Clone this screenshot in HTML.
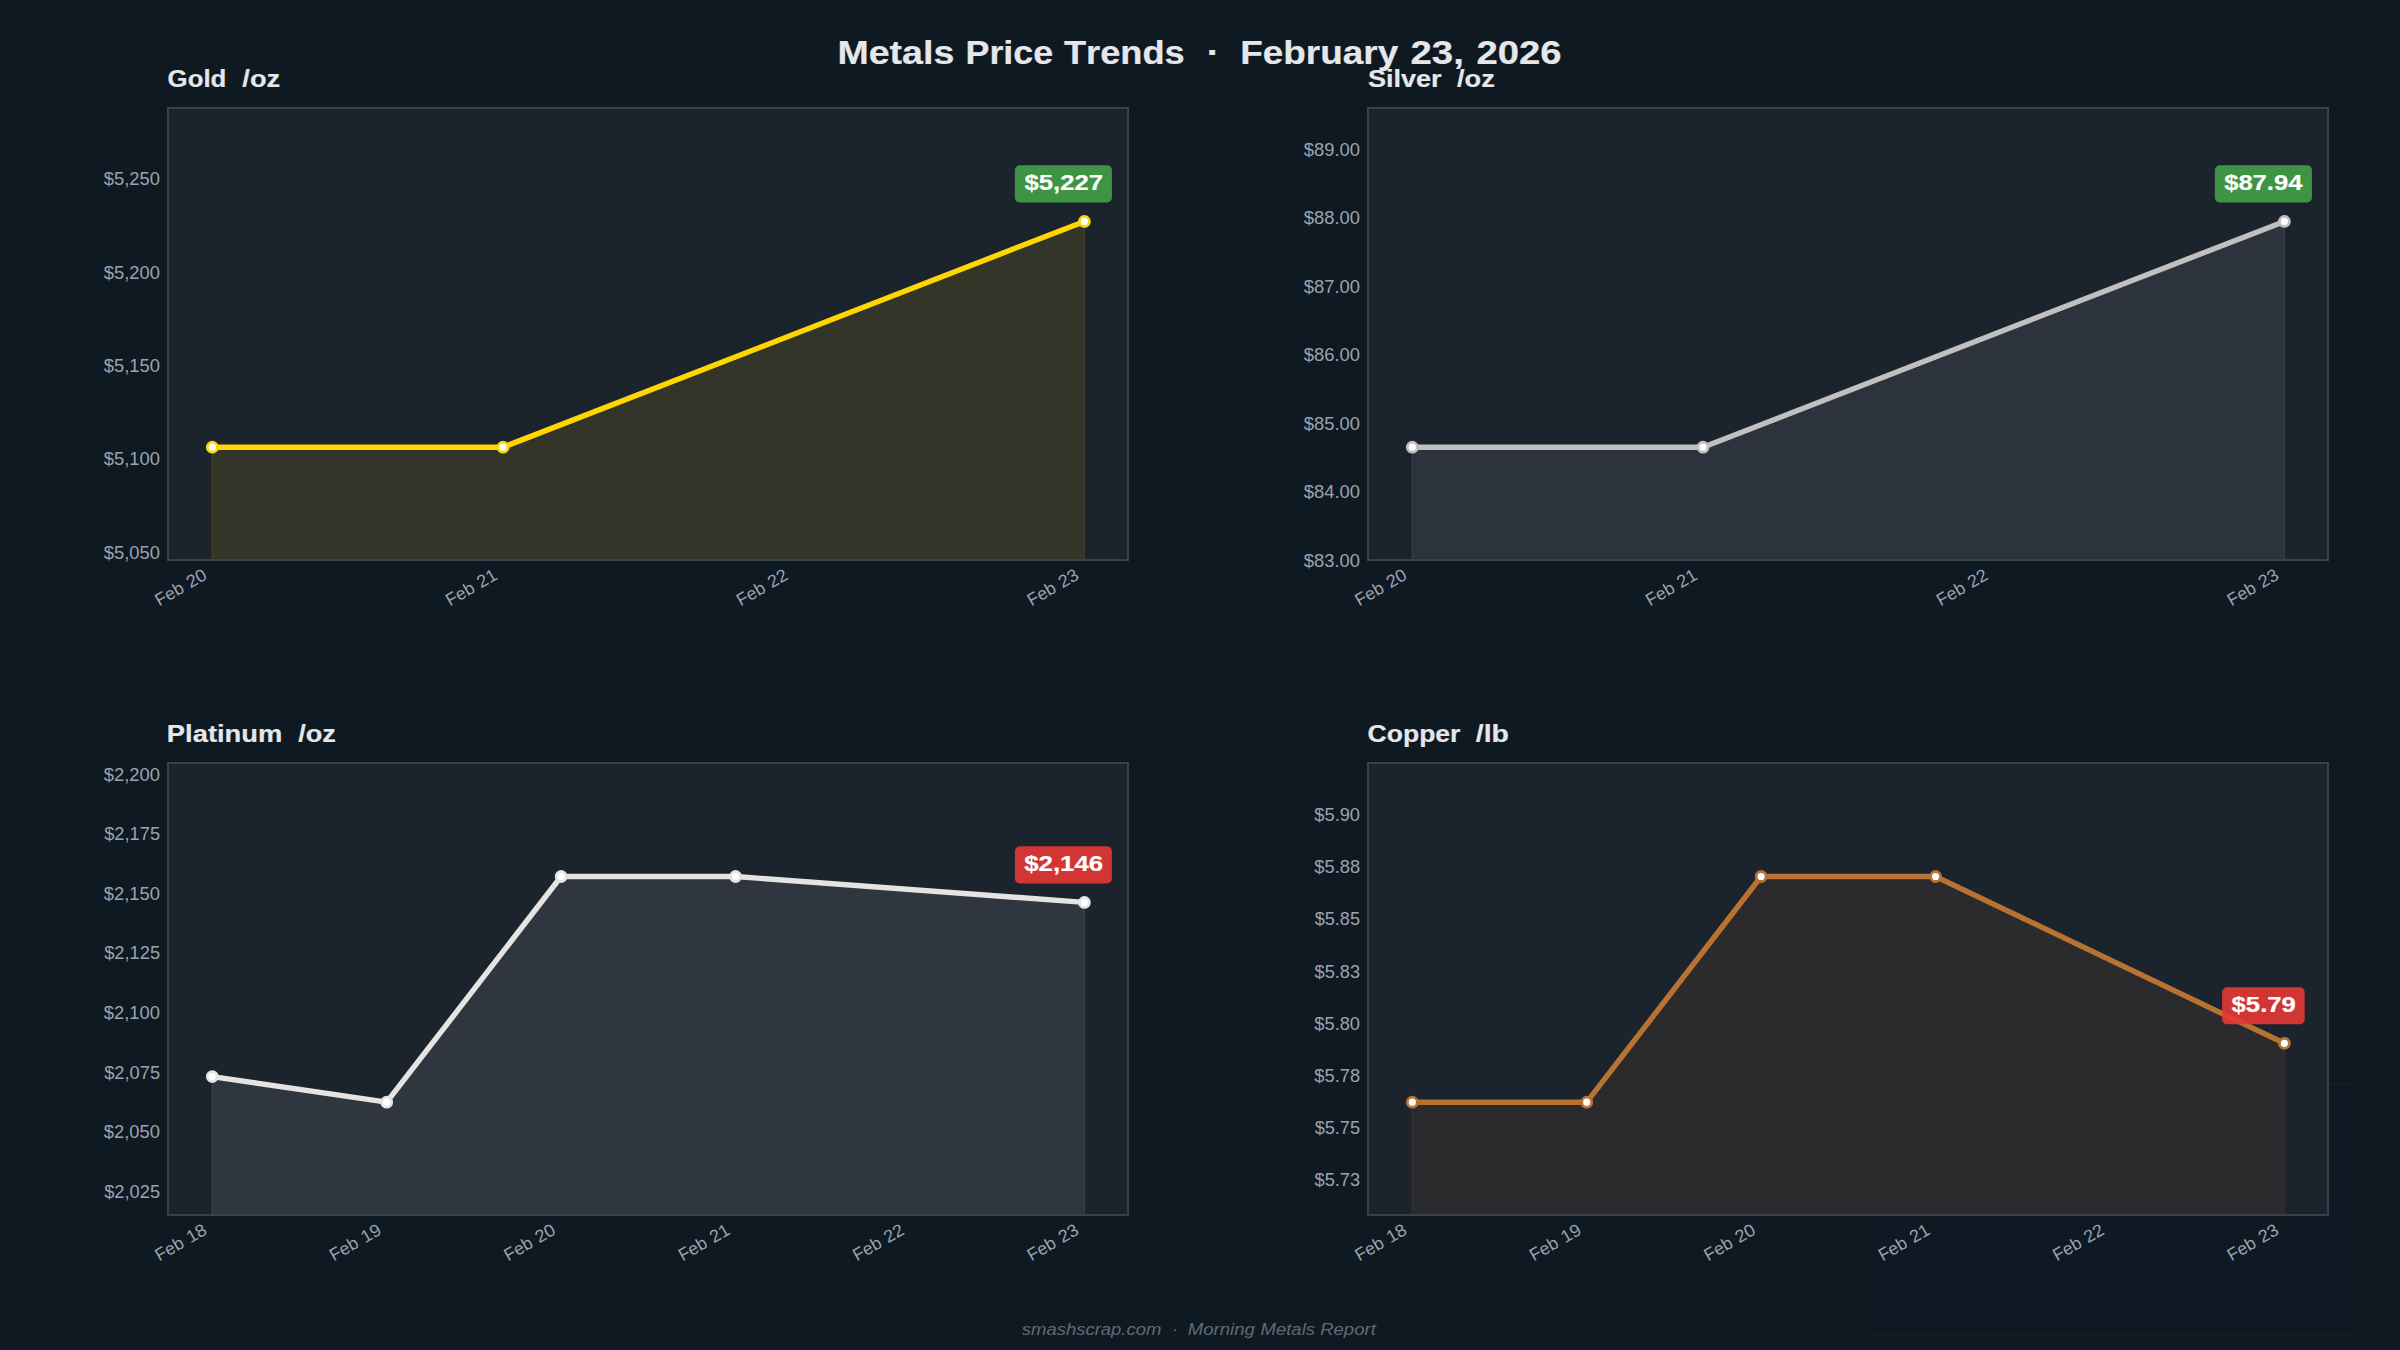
<!DOCTYPE html>
<html><head><meta charset="utf-8"><title>Metals Price Trends</title>
<style>html,body{margin:0;padding:0;background:#0f1922;width:2400px;height:1350px;overflow:hidden}svg{display:block}text{font-family:"Liberation Sans",sans-serif;font-kerning:none;white-space:pre}</style></head>
<body>
<svg width="2400" height="1350" viewBox="0 0 2400 1350">
<rect x="0" y="0" width="2400" height="1350" fill="#0f1922"/>
<rect x="1872" y="1083" width="480" height="252" fill="#14223a" fill-opacity="0.12"/>
<line x1="1872" y1="1335" x2="2352" y2="1335" stroke="#5a2030" stroke-opacity="0.25" stroke-width="1"/>
<line x1="2329" y1="1083.7" x2="2352" y2="1083.7" stroke="#3a2a4a" stroke-opacity="0.35" stroke-width="1.2"/>
<rect x="168" y="108" width="960" height="452" fill="#1b232d"/>
<polygon points="212.3,560 212.3,447.2 503,447.2 1084.4,221.4 1084.4,560" fill="#FFD700" fill-opacity="0.1" stroke="#FFD700" stroke-opacity="0.1" stroke-width="1.5"/>
<rect x="168" y="108" width="960" height="452" fill="none" stroke="#37424d" stroke-width="2"/>
<polyline points="212.3,447.2 503,447.2 1084.4,221.4" fill="none" stroke="#FFD700" stroke-width="5.4" stroke-linejoin="round" stroke-linecap="round"/>
<circle cx="212.3" cy="447.2" r="5.0" fill="#ffffff" stroke="#FFD700" stroke-width="2.78"/>
<circle cx="503" cy="447.2" r="5.0" fill="#ffffff" stroke="#FFD700" stroke-width="2.78"/>
<circle cx="1084.4" cy="221.4" r="5.0" fill="#ffffff" stroke="#FFD700" stroke-width="2.78"/>
<text x="103.83" y="558.7" font-size="17.49" textLength="56.18" lengthAdjust="spacingAndGlyphs" fill="#9ca3af">$5,050</text>
<text x="103.83" y="465.3" font-size="17.49" textLength="56.18" lengthAdjust="spacingAndGlyphs" fill="#9ca3af">$5,100</text>
<text x="103.83" y="371.9" font-size="17.49" textLength="56.18" lengthAdjust="spacingAndGlyphs" fill="#9ca3af">$5,150</text>
<text x="103.83" y="278.5" font-size="17.49" textLength="56.18" lengthAdjust="spacingAndGlyphs" fill="#9ca3af">$5,200</text>
<text x="103.83" y="185.1" font-size="17.49" textLength="56.18" lengthAdjust="spacingAndGlyphs" fill="#9ca3af">$5,250</text>
<text x="0.21" y="0" font-size="17.5" textLength="30.04" lengthAdjust="spacingAndGlyphs" fill="#9ca3af" transform="translate(159.19 606.59) rotate(-30)">Feb</text>
<text x="36.02" y="0" font-size="17.5" textLength="20.53" lengthAdjust="spacingAndGlyphs" fill="#9ca3af" transform="translate(159.19 606.59) rotate(-30)">20</text>
<text x="0.21" y="0" font-size="17.5" textLength="30.04" lengthAdjust="spacingAndGlyphs" fill="#9ca3af" transform="translate(449.89 606.59) rotate(-30)">Feb</text>
<text x="36.03" y="0" font-size="17.5" textLength="20.26" lengthAdjust="spacingAndGlyphs" fill="#9ca3af" transform="translate(449.89 606.59) rotate(-30)">21</text>
<text x="0.21" y="0" font-size="17.5" textLength="30.04" lengthAdjust="spacingAndGlyphs" fill="#9ca3af" transform="translate(740.59 606.59) rotate(-30)">Feb</text>
<text x="36.04" y="0" font-size="17.5" textLength="20.14" lengthAdjust="spacingAndGlyphs" fill="#9ca3af" transform="translate(740.59 606.59) rotate(-30)">22</text>
<text x="0.21" y="0" font-size="17.5" textLength="30.04" lengthAdjust="spacingAndGlyphs" fill="#9ca3af" transform="translate(1031.29 606.59) rotate(-30)">Feb</text>
<text x="36.02" y="0" font-size="17.5" textLength="20.38" lengthAdjust="spacingAndGlyphs" fill="#9ca3af" transform="translate(1031.29 606.59) rotate(-30)">23</text>
<text x="167.64" y="86.7" font-size="24.15" textLength="58.71" lengthAdjust="spacingAndGlyphs" font-weight="bold" fill="#e5e7eb" stroke="#e5e7eb" stroke-width="0.2">Gold</text>
<text x="242.33" y="86.7" font-size="24.15" textLength="37.74" lengthAdjust="spacingAndGlyphs" font-weight="bold" fill="#e5e7eb" stroke="#e5e7eb" stroke-width="0.2">/oz</text>
<rect x="1014.88" y="165.35" width="97.04" height="37.1" rx="5" fill="#43a047" fill-opacity="0.9"/>
<text x="1024.51" y="190" font-size="22.08" textLength="78.56" lengthAdjust="spacingAndGlyphs" font-weight="bold" fill="#ffffff" stroke="#ffffff" stroke-width="0.2">$5,227</text>
<rect x="1368" y="108" width="960" height="452" fill="#1b232d"/>
<polygon points="1412.3,560 1412.3,447.2 1703,447.2 2284.4,221.4 2284.4,560" fill="#C0C0C0" fill-opacity="0.1" stroke="#C0C0C0" stroke-opacity="0.1" stroke-width="1.5"/>
<rect x="1368" y="108" width="960" height="452" fill="none" stroke="#37424d" stroke-width="2"/>
<polyline points="1412.3,447.2 1703,447.2 2284.4,221.4" fill="none" stroke="#C0C0C0" stroke-width="5.4" stroke-linejoin="round" stroke-linecap="round"/>
<circle cx="1412.3" cy="447.2" r="5.0" fill="#ffffff" stroke="#C0C0C0" stroke-width="2.78"/>
<circle cx="1703" cy="447.2" r="5.0" fill="#ffffff" stroke="#C0C0C0" stroke-width="2.78"/>
<circle cx="2284.4" cy="221.4" r="5.0" fill="#ffffff" stroke="#C0C0C0" stroke-width="2.78"/>
<text x="1303.83" y="566.8" font-size="17.49" textLength="56.18" lengthAdjust="spacingAndGlyphs" fill="#9ca3af">$83.00</text>
<text x="1303.83" y="498.3" font-size="17.49" textLength="56.18" lengthAdjust="spacingAndGlyphs" fill="#9ca3af">$84.00</text>
<text x="1303.83" y="429.8" font-size="17.49" textLength="56.18" lengthAdjust="spacingAndGlyphs" fill="#9ca3af">$85.00</text>
<text x="1303.83" y="361.3" font-size="17.49" textLength="56.18" lengthAdjust="spacingAndGlyphs" fill="#9ca3af">$86.00</text>
<text x="1303.83" y="292.8" font-size="17.49" textLength="56.18" lengthAdjust="spacingAndGlyphs" fill="#9ca3af">$87.00</text>
<text x="1303.83" y="224.3" font-size="17.49" textLength="56.18" lengthAdjust="spacingAndGlyphs" fill="#9ca3af">$88.00</text>
<text x="1303.83" y="155.8" font-size="17.49" textLength="56.18" lengthAdjust="spacingAndGlyphs" fill="#9ca3af">$89.00</text>
<text x="0.21" y="0" font-size="17.5" textLength="30.04" lengthAdjust="spacingAndGlyphs" fill="#9ca3af" transform="translate(1359.19 606.59) rotate(-30)">Feb</text>
<text x="36.02" y="0" font-size="17.5" textLength="20.53" lengthAdjust="spacingAndGlyphs" fill="#9ca3af" transform="translate(1359.19 606.59) rotate(-30)">20</text>
<text x="0.21" y="0" font-size="17.5" textLength="30.04" lengthAdjust="spacingAndGlyphs" fill="#9ca3af" transform="translate(1649.89 606.59) rotate(-30)">Feb</text>
<text x="36.03" y="0" font-size="17.5" textLength="20.26" lengthAdjust="spacingAndGlyphs" fill="#9ca3af" transform="translate(1649.89 606.59) rotate(-30)">21</text>
<text x="0.21" y="0" font-size="17.5" textLength="30.04" lengthAdjust="spacingAndGlyphs" fill="#9ca3af" transform="translate(1940.59 606.59) rotate(-30)">Feb</text>
<text x="36.04" y="0" font-size="17.5" textLength="20.14" lengthAdjust="spacingAndGlyphs" fill="#9ca3af" transform="translate(1940.59 606.59) rotate(-30)">22</text>
<text x="0.21" y="0" font-size="17.5" textLength="30.04" lengthAdjust="spacingAndGlyphs" fill="#9ca3af" transform="translate(2231.29 606.59) rotate(-30)">Feb</text>
<text x="36.02" y="0" font-size="17.5" textLength="20.38" lengthAdjust="spacingAndGlyphs" fill="#9ca3af" transform="translate(2231.29 606.59) rotate(-30)">23</text>
<text x="1367.92" y="86.7" font-size="24.15" textLength="73.74" lengthAdjust="spacingAndGlyphs" font-weight="bold" fill="#e5e7eb" stroke="#e5e7eb" stroke-width="0.2">Silver</text>
<text x="1457.07" y="86.7" font-size="24.15" textLength="37.74" lengthAdjust="spacingAndGlyphs" font-weight="bold" fill="#e5e7eb" stroke="#e5e7eb" stroke-width="0.2">/oz</text>
<rect x="2214.88" y="165.35" width="97.04" height="37.1" rx="5" fill="#43a047" fill-opacity="0.9"/>
<text x="2224.16" y="190" font-size="22.08" textLength="78.27" lengthAdjust="spacingAndGlyphs" font-weight="bold" fill="#ffffff" stroke="#ffffff" stroke-width="0.2">$87.94</text>
<rect x="168" y="763" width="960" height="452" fill="#1b232d"/>
<polygon points="212.3,1215 212.3,1076.6 386.72,1102.2 561.14,876.5 735.56,876.5 1084.4,902.4 1084.4,1215" fill="#E5E4E2" fill-opacity="0.1" stroke="#E5E4E2" stroke-opacity="0.1" stroke-width="1.5"/>
<rect x="168" y="763" width="960" height="452" fill="none" stroke="#37424d" stroke-width="2"/>
<polyline points="212.3,1076.6 386.72,1102.2 561.14,876.5 735.56,876.5 1084.4,902.4" fill="none" stroke="#E5E4E2" stroke-width="5.4" stroke-linejoin="round" stroke-linecap="round"/>
<circle cx="212.3" cy="1076.6" r="5.0" fill="#ffffff" stroke="#E5E4E2" stroke-width="2.78"/>
<circle cx="386.72" cy="1102.2" r="5.0" fill="#ffffff" stroke="#E5E4E2" stroke-width="2.78"/>
<circle cx="561.14" cy="876.5" r="5.0" fill="#ffffff" stroke="#E5E4E2" stroke-width="2.78"/>
<circle cx="735.56" cy="876.5" r="5.0" fill="#ffffff" stroke="#E5E4E2" stroke-width="2.78"/>
<circle cx="1084.4" cy="902.4" r="5.0" fill="#ffffff" stroke="#E5E4E2" stroke-width="2.78"/>
<text x="104.18" y="1197.7" font-size="17.49" textLength="55.89" lengthAdjust="spacingAndGlyphs" fill="#9ca3af">$2,025</text>
<text x="103.83" y="1138.14" font-size="17.49" textLength="56.18" lengthAdjust="spacingAndGlyphs" fill="#9ca3af">$2,050</text>
<text x="104.18" y="1078.58" font-size="17.49" textLength="55.89" lengthAdjust="spacingAndGlyphs" fill="#9ca3af">$2,075</text>
<text x="103.83" y="1019.02" font-size="17.49" textLength="56.18" lengthAdjust="spacingAndGlyphs" fill="#9ca3af">$2,100</text>
<text x="104.18" y="959.46" font-size="17.49" textLength="55.89" lengthAdjust="spacingAndGlyphs" fill="#9ca3af">$2,125</text>
<text x="103.83" y="899.9" font-size="17.49" textLength="56.18" lengthAdjust="spacingAndGlyphs" fill="#9ca3af">$2,150</text>
<text x="104.18" y="840.34" font-size="17.49" textLength="55.89" lengthAdjust="spacingAndGlyphs" fill="#9ca3af">$2,175</text>
<text x="103.83" y="780.78" font-size="17.49" textLength="56.18" lengthAdjust="spacingAndGlyphs" fill="#9ca3af">$2,200</text>
<text x="0.21" y="0" font-size="17.5" textLength="30.04" lengthAdjust="spacingAndGlyphs" fill="#9ca3af" transform="translate(159.19 1261.59) rotate(-30)">Feb</text>
<text x="36.16" y="0" font-size="17.5" textLength="20.44" lengthAdjust="spacingAndGlyphs" fill="#9ca3af" transform="translate(159.19 1261.59) rotate(-30)">18</text>
<text x="0.21" y="0" font-size="17.5" textLength="30.04" lengthAdjust="spacingAndGlyphs" fill="#9ca3af" transform="translate(333.61 1261.59) rotate(-30)">Feb</text>
<text x="36.15" y="0" font-size="17.5" textLength="20.48" lengthAdjust="spacingAndGlyphs" fill="#9ca3af" transform="translate(333.61 1261.59) rotate(-30)">19</text>
<text x="0.21" y="0" font-size="17.5" textLength="30.04" lengthAdjust="spacingAndGlyphs" fill="#9ca3af" transform="translate(508.03 1261.59) rotate(-30)">Feb</text>
<text x="36.02" y="0" font-size="17.5" textLength="20.53" lengthAdjust="spacingAndGlyphs" fill="#9ca3af" transform="translate(508.03 1261.59) rotate(-30)">20</text>
<text x="0.21" y="0" font-size="17.5" textLength="30.04" lengthAdjust="spacingAndGlyphs" fill="#9ca3af" transform="translate(682.45 1261.59) rotate(-30)">Feb</text>
<text x="36.03" y="0" font-size="17.5" textLength="20.26" lengthAdjust="spacingAndGlyphs" fill="#9ca3af" transform="translate(682.45 1261.59) rotate(-30)">21</text>
<text x="0.21" y="0" font-size="17.5" textLength="30.04" lengthAdjust="spacingAndGlyphs" fill="#9ca3af" transform="translate(856.87 1261.59) rotate(-30)">Feb</text>
<text x="36.04" y="0" font-size="17.5" textLength="20.14" lengthAdjust="spacingAndGlyphs" fill="#9ca3af" transform="translate(856.87 1261.59) rotate(-30)">22</text>
<text x="0.21" y="0" font-size="17.5" textLength="30.04" lengthAdjust="spacingAndGlyphs" fill="#9ca3af" transform="translate(1031.29 1261.59) rotate(-30)">Feb</text>
<text x="36.02" y="0" font-size="17.5" textLength="20.38" lengthAdjust="spacingAndGlyphs" fill="#9ca3af" transform="translate(1031.29 1261.59) rotate(-30)">23</text>
<text x="166.87" y="741.7" font-size="24.15" textLength="115.45" lengthAdjust="spacingAndGlyphs" font-weight="bold" fill="#e5e7eb" stroke="#e5e7eb" stroke-width="0.2">Platinum</text>
<text x="298.19" y="741.7" font-size="24.15" textLength="37.74" lengthAdjust="spacingAndGlyphs" font-weight="bold" fill="#e5e7eb" stroke="#e5e7eb" stroke-width="0.2">/oz</text>
<rect x="1014.88" y="846.35" width="97.04" height="37.1" rx="5" fill="#e53935" fill-opacity="0.9"/>
<text x="1024.24" y="871" font-size="22.08" textLength="78.91" lengthAdjust="spacingAndGlyphs" font-weight="bold" fill="#ffffff" stroke="#ffffff" stroke-width="0.2">$2,146</text>
<rect x="1368" y="763" width="960" height="452" fill="#1b232d"/>
<polygon points="1412.3,1215 1412.3,1102.2 1586.72,1102.2 1761.14,876.5 1935.56,876.5 2284.4,1043.3 2284.4,1215" fill="#B87333" fill-opacity="0.1" stroke="#B87333" stroke-opacity="0.1" stroke-width="1.5"/>
<rect x="1368" y="763" width="960" height="452" fill="none" stroke="#37424d" stroke-width="2"/>
<polyline points="1412.3,1102.2 1586.72,1102.2 1761.14,876.5 1935.56,876.5 2284.4,1043.3" fill="none" stroke="#B87333" stroke-width="5.4" stroke-linejoin="round" stroke-linecap="round"/>
<circle cx="1412.3" cy="1102.2" r="5.0" fill="#ffffff" stroke="#B87333" stroke-width="2.78"/>
<circle cx="1586.72" cy="1102.2" r="5.0" fill="#ffffff" stroke="#B87333" stroke-width="2.78"/>
<circle cx="1761.14" cy="876.5" r="5.0" fill="#ffffff" stroke="#B87333" stroke-width="2.78"/>
<circle cx="1935.56" cy="876.5" r="5.0" fill="#ffffff" stroke="#B87333" stroke-width="2.78"/>
<circle cx="2284.4" cy="1043.3" r="5.0" fill="#ffffff" stroke="#B87333" stroke-width="2.78"/>
<text x="1314.56" y="1186.4" font-size="17.49" textLength="45.54" lengthAdjust="spacingAndGlyphs" fill="#9ca3af">$5.73</text>
<text x="1314.68" y="1134.21" font-size="17.49" textLength="45.38" lengthAdjust="spacingAndGlyphs" fill="#9ca3af">$5.75</text>
<text x="1314.37" y="1082.02" font-size="17.49" textLength="45.73" lengthAdjust="spacingAndGlyphs" fill="#9ca3af">$5.78</text>
<text x="1314.33" y="1029.83" font-size="17.49" textLength="45.68" lengthAdjust="spacingAndGlyphs" fill="#9ca3af">$5.80</text>
<text x="1314.56" y="977.64" font-size="17.49" textLength="45.54" lengthAdjust="spacingAndGlyphs" fill="#9ca3af">$5.83</text>
<text x="1314.68" y="925.45" font-size="17.49" textLength="45.38" lengthAdjust="spacingAndGlyphs" fill="#9ca3af">$5.85</text>
<text x="1314.37" y="873.26" font-size="17.49" textLength="45.73" lengthAdjust="spacingAndGlyphs" fill="#9ca3af">$5.88</text>
<text x="1314.33" y="821.07" font-size="17.49" textLength="45.68" lengthAdjust="spacingAndGlyphs" fill="#9ca3af">$5.90</text>
<text x="0.21" y="0" font-size="17.5" textLength="30.04" lengthAdjust="spacingAndGlyphs" fill="#9ca3af" transform="translate(1359.19 1261.59) rotate(-30)">Feb</text>
<text x="36.16" y="0" font-size="17.5" textLength="20.44" lengthAdjust="spacingAndGlyphs" fill="#9ca3af" transform="translate(1359.19 1261.59) rotate(-30)">18</text>
<text x="0.21" y="0" font-size="17.5" textLength="30.04" lengthAdjust="spacingAndGlyphs" fill="#9ca3af" transform="translate(1533.61 1261.59) rotate(-30)">Feb</text>
<text x="36.15" y="0" font-size="17.5" textLength="20.48" lengthAdjust="spacingAndGlyphs" fill="#9ca3af" transform="translate(1533.61 1261.59) rotate(-30)">19</text>
<text x="0.21" y="0" font-size="17.5" textLength="30.04" lengthAdjust="spacingAndGlyphs" fill="#9ca3af" transform="translate(1708.03 1261.59) rotate(-30)">Feb</text>
<text x="36.02" y="0" font-size="17.5" textLength="20.53" lengthAdjust="spacingAndGlyphs" fill="#9ca3af" transform="translate(1708.03 1261.59) rotate(-30)">20</text>
<text x="0.21" y="0" font-size="17.5" textLength="30.04" lengthAdjust="spacingAndGlyphs" fill="#9ca3af" transform="translate(1882.45 1261.59) rotate(-30)">Feb</text>
<text x="36.03" y="0" font-size="17.5" textLength="20.26" lengthAdjust="spacingAndGlyphs" fill="#9ca3af" transform="translate(1882.45 1261.59) rotate(-30)">21</text>
<text x="0.21" y="0" font-size="17.5" textLength="30.04" lengthAdjust="spacingAndGlyphs" fill="#9ca3af" transform="translate(2056.87 1261.59) rotate(-30)">Feb</text>
<text x="36.04" y="0" font-size="17.5" textLength="20.14" lengthAdjust="spacingAndGlyphs" fill="#9ca3af" transform="translate(2056.87 1261.59) rotate(-30)">22</text>
<text x="0.21" y="0" font-size="17.5" textLength="30.04" lengthAdjust="spacingAndGlyphs" fill="#9ca3af" transform="translate(2231.29 1261.59) rotate(-30)">Feb</text>
<text x="36.02" y="0" font-size="17.5" textLength="20.38" lengthAdjust="spacingAndGlyphs" fill="#9ca3af" transform="translate(2231.29 1261.59) rotate(-30)">23</text>
<text x="1367.61" y="741.7" font-size="24.15" textLength="92.83" lengthAdjust="spacingAndGlyphs" font-weight="bold" fill="#e5e7eb" stroke="#e5e7eb" stroke-width="0.2">Copper</text>
<text x="1475.84" y="741.7" font-size="24.15" textLength="33.16" lengthAdjust="spacingAndGlyphs" font-weight="bold" fill="#e5e7eb" stroke="#e5e7eb" stroke-width="0.2">/lb</text>
<rect x="2222.13" y="987.25" width="82.55" height="37.1" rx="5" fill="#e53935" fill-opacity="0.9"/>
<text x="2231.6" y="1011.9" font-size="22.08" textLength="64.22" lengthAdjust="spacingAndGlyphs" font-weight="bold" fill="#ffffff" stroke="#ffffff" stroke-width="0.2">$5.79</text>
<text x="837.49" y="64.2" font-size="32.66" textLength="116.79" lengthAdjust="spacingAndGlyphs" font-weight="bold" fill="#e5e7eb" stroke="#e5e7eb" stroke-width="0.2">Metals</text>
<text x="965.5" y="64.2" font-size="32.66" textLength="87.58" lengthAdjust="spacingAndGlyphs" font-weight="bold" fill="#e5e7eb" stroke="#e5e7eb" stroke-width="0.2">Price</text>
<text x="1063.93" y="64.2" font-size="32.66" textLength="120.83" lengthAdjust="spacingAndGlyphs" font-weight="bold" fill="#e5e7eb" stroke="#e5e7eb" stroke-width="0.2">Trends</text>
<text x="1206.89" y="64.2" font-size="32.66" textLength="12.95" lengthAdjust="spacingAndGlyphs" font-weight="bold" fill="#e5e7eb" stroke="#e5e7eb" stroke-width="0.2">·</text>
<text x="1240.25" y="64.2" font-size="32.66" textLength="157.92" lengthAdjust="spacingAndGlyphs" font-weight="bold" fill="#e5e7eb" stroke="#e5e7eb" stroke-width="0.2">February</text>
<text x="1410.5" y="64.2" font-size="32.66" textLength="53.36" lengthAdjust="spacingAndGlyphs" font-weight="bold" fill="#e5e7eb" stroke="#e5e7eb" stroke-width="0.2">23,</text>
<text x="1476.42" y="64.2" font-size="32.66" textLength="85.14" lengthAdjust="spacingAndGlyphs" font-weight="bold" fill="#e5e7eb" stroke="#e5e7eb" stroke-width="0.2">2026</text>
<text x="1021.85" y="1334.9" font-size="17.4" textLength="139.53" lengthAdjust="spacingAndGlyphs" font-style="italic" fill="#5f6a76">smashscrap.com</text>
<text x="1172.11" y="1334.9" font-size="17.4" textLength="6.05" lengthAdjust="spacingAndGlyphs" font-style="italic" fill="#5f6a76">·</text>
<text x="1187.87" y="1334.9" font-size="17.4" textLength="67.02" lengthAdjust="spacingAndGlyphs" font-style="italic" fill="#5f6a76">Morning</text>
<text x="1260.51" y="1334.9" font-size="17.4" textLength="54.53" lengthAdjust="spacingAndGlyphs" font-style="italic" fill="#5f6a76">Metals</text>
<text x="1320.16" y="1334.9" font-size="17.4" textLength="55.67" lengthAdjust="spacingAndGlyphs" font-style="italic" fill="#5f6a76">Report</text>
</svg>
</body></html>
